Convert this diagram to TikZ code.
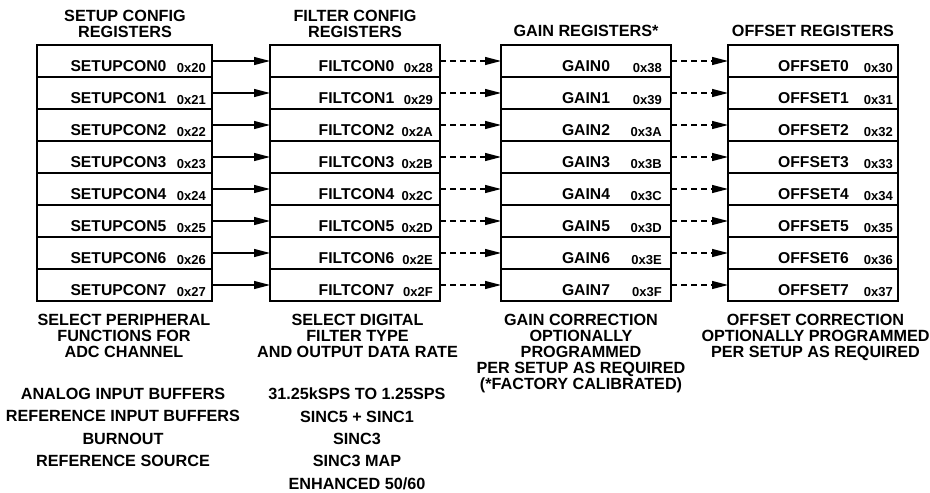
\documentclass[tikz,border=0pt]{standalone}
\usepackage{fontspec}
\setmainfont{Liberation Sans}
\usetikzlibrary{arrows.meta}

\begin{document}
\begin{tikzpicture}[x=1pt,y=-1pt,
  regbox/.style={draw, line width=1.4pt, minimum height=32pt, inner sep=0pt, outer sep=0pt},
  regname/.style={anchor=base, inner sep=0pt, font=\fontsize{15.7}{16}\selectfont\bfseries},
  regaddr/.style={anchor=base east, inner sep=0pt, font=\fontsize{13}{13}\selectfont\bfseries},
  coltext/.style={anchor=north, inner sep=0pt, align=center, font=\fontsize{16.2}{16}\selectfont\bfseries},
  collist/.style={coltext, font=\fontsize{16.2}{22.3}\selectfont\bfseries},
  link/.style={line width=1.3pt, -{Triangle[length=16pt,width=8pt]}},
  dashlink/.style={link, dash pattern=on 6pt off 4pt}]
  \useasboundingbox (0,0) rectangle (930,493);

  % Column titles
  \node[coltext] (setuptitle) at (125,10) {SETUP CONFIG\\REGISTERS};
  \node[coltext] (filttitle) at (355,10) {FILTER CONFIG\\REGISTERS};
  \node[coltext] (gaintitle) at (586,25) {GAIN REGISTERS*};
  \node[coltext] (offsettitle) at (813,25) {OFFSET REGISTERS};

  % Register rows
  \foreach \i/\sa/\fa/\ga/\oa in {0/20/28/38/30, 1/21/29/39/31, 2/22/2A/3A/32,
      3/23/2B/3B/33, 4/24/2C/3C/34, 5/25/2D/3D/35, 6/26/2E/3E/36, 7/27/2F/3F/37} {
    \pgfmathsetmacro\yc{61+32*\i}
    \node[regbox, minimum width=175pt] (setup\i) at (124.5,\yc) {};
    \node[regbox, minimum width=170pt] (filt\i) at (355,\yc) {};
    \node[regbox, minimum width=170pt] (gain\i) at (586,\yc) {};
    \node[regbox, minimum width=170pt] (offset\i) at (813,\yc) {};
    \node[regname] (setupname\i) at (118.5,\yc+10) {SETUPCON\i};
    \node[regname] (filtname\i) at (356.5,\yc+10) {FILTCON\i};
    \node[regname] (gainname\i) at (586,\yc+10) {GAIN\i};
    \node[regname] (offsetname\i) at (813.5,\yc+10) {OFFSET\i};
    \node[regaddr] (setupaddr\i) at (206,\yc+11.5) {0x\sa};
    \node[regaddr] (filtaddr\i) at (433,\yc+11.5) {0x\fa};
    \node[regaddr] (gainaddr\i) at (662,\yc+11.5) {0x\ga};
    \node[regaddr] (offsetaddr\i) at (893,\yc+11.5) {0x\oa};
    \draw[link] (setup\i) -- (filt\i);
    \draw[dashlink] (filt\i) -- (gain\i);
    \draw[dashlink] (gain\i) -- (offset\i);
  }

  % Descriptions
  \node[coltext] (setupdesc) at (124,314) {SELECT PERIPHERAL\\FUNCTIONS FOR\\ADC CHANNEL};
  \node[coltext] (filtdesc) at (357.5,314) {SELECT DIGITAL\\FILTER TYPE\\AND OUTPUT DATA RATE};
  \node[coltext] (gaindesc) at (581,314) {GAIN CORRECTION\\OPTIONALLY\\PROGRAMMED\\PER SETUP AS REQUIRED\\(*FACTORY CALIBRATED)};
  \node[coltext] (offsetdesc) at (815.5,314) {OFFSET CORRECTION\\OPTIONALLY PROGRAMMED\\PER SETUP AS REQUIRED};

  % Option lists
  \node[collist] (setuplist) at (123,388) {ANALOG INPUT BUFFERS\\REFERENCE INPUT BUFFERS\\BURNOUT\\REFERENCE SOURCE};
  \node[collist] (filtlist) at (357,388) {31.25kSPS TO 1.25SPS\\SINC5 + SINC1\\SINC3\\SINC3 MAP\\ENHANCED 50/60};
\end{tikzpicture}
\end{document}
